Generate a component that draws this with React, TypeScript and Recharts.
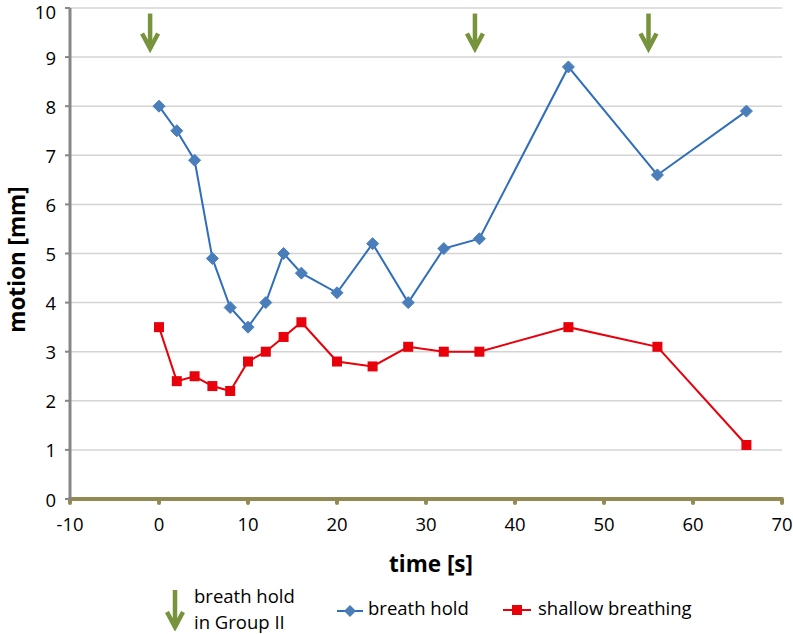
import React from 'react';
import { ComposedChart, Line, Scatter, XAxis, YAxis, CartesianGrid, Legend } from 'recharts';

const times = [0, 2, 4, 6, 8, 10, 12, 14, 16, 20, 24, 28, 32, 36, 46, 56, 66];
const breathHold = [8.0, 7.5, 6.9, 4.9, 3.9, 3.5, 4.0, 5.0, 4.6, 4.2, 5.2, 4.0, 5.1, 5.3, 8.8, 6.6, 7.9];
const shallowBreathing = [3.5, 2.4, 2.5, 2.3, 2.2, 2.8, 3.0, 3.3, 3.6, 2.8, 2.7, 3.1, 3.0, 3.0, 3.5, 3.1, 1.1];
const arrowTimes = [-1, 35.5, 55];
const arrowLevel = 9.5;
const xTicks = [-10, 0, 10, 20, 30, 40, 50, 60, 70];
const yTicks = [0, 1, 2, 3, 4, 5, 6, 7, 8, 9, 10];

const holdData = times.map((t, i) => ({ x: t, y: breathHold[i] }));
const shallowData = times.map((t, i) => ({ x: t, y: shallowBreathing[i] }));
const arrowData = arrowTimes.map((t) => ({ x: t, y: arrowLevel }));

const FONT = '"Open Sans", sans-serif';
const GREEN = '#77933C';
const BLUE_LINE = '#2F6EBA';
const BLUE_FILL = '#4A7EBB';
const RED = '#E8000B';
const TICK_SIZE = 18.5;
const LABEL_SIZE = 22.5;

const ArrowShape = (props: any) => {
  const { cx, cy } = props;
  if (cx == null || cy == null) return null;
  return (
    <g stroke={GREEN} strokeWidth={4.5} fill="none">
      <line x1={cx} y1={cy - 19} x2={cx} y2={cy + 16} />
      <polyline points={`${cx - 8},${cy + 1} ${cx},${cy + 16} ${cx + 8},${cy + 1}`} strokeLinejoin="miter" />
    </g>
  );
};

const Diamond = (props: any) => {
  const { cx, cy } = props;
  if (cx == null || cy == null) return <g />;
  const r = 6;
  return <path d={`M${cx},${cy - r}L${cx + r},${cy}L${cx},${cy + r}L${cx - r},${cy}Z`} fill={BLUE_FILL} stroke={BLUE_FILL} strokeWidth={1} />;
};

const Square = (props: any) => {
  const { cx, cy } = props;
  if (cx == null || cy == null) return <g />;
  const r = 5;
  return <rect x={cx - r} y={cy - r} width={2 * r} height={2 * r} fill={RED} />;
};

const YTick = (props: any) => {
  const { x, y, payload } = props;
  return (
    <text x={x} y={Math.max(y, 11)} textAnchor="end" dominantBaseline="central" fill="#000" fontSize={TICK_SIZE} fontFamily={FONT}>
      {payload.value}
    </text>
  );
};

const YLabel = (props: any) => {
  const vb = props.viewBox || {};
  const x = (vb.x ?? 0) + 16;
  const y = (vb.y ?? 0) + (vb.height ?? 0) / 2 + 6;
  return (
    <text x={x} y={y} transform={`rotate(-90, ${x}, ${y})`} textAnchor="middle" dominantBaseline="central" fontFamily={FONT} fontSize={LABEL_SIZE} fontWeight="bold" fill="#000">
      motion [mm]
    </text>
  );
};

const XLabel = (props: any) => {
  const vb = props.viewBox || {};
  const x = (vb.x ?? 0) + (vb.width ?? 0) / 2 + 5;
  const y = (vb.y ?? 0) + 64;
  return (
    <text x={x} y={y} textAnchor="middle" dominantBaseline="central" fontFamily={FONT} fontSize={LABEL_SIZE} fontWeight="bold" fill="#000">
      time [s]
    </text>
  );
};

const renderLegend = () => (
  <div style={{ position: 'relative', width: 793, height: 60, fontFamily: FONT, fontSize: TICK_SIZE, color: '#000' }}>
    <svg style={{ position: 'absolute', left: 165, top: 9 }} width={20} height={42}>
      <g stroke={GREEN} strokeWidth={4.5} fill="none">
        <line x1={10} y1={1} x2={10} y2={38} />
        <polyline points="2,23 10,38 18,23" />
      </g>
    </svg>
    <div style={{ position: 'absolute', left: 194, top: 3, lineHeight: '26px', whiteSpace: 'nowrap' }}>
      breath hold
      <br />
      in Group II
    </div>
    <svg style={{ position: 'absolute', left: 336, top: 23 }} width={28} height={16}>
      <line x1={1} y1={8} x2={27} y2={8} stroke={BLUE_LINE} strokeWidth={2} />
      <path d="M14,2L20,8L14,14L8,8Z" fill={BLUE_FILL} />
    </svg>
    <div style={{ position: 'absolute', left: 368, top: 15, lineHeight: '26px', whiteSpace: 'nowrap' }}>breath hold</div>
    <svg style={{ position: 'absolute', left: 502, top: 22 }} width={30} height={16}>
      <line x1={1} y1={8} x2={29} y2={8} stroke={RED} strokeWidth={2} />
      <rect x={10} y={3} width={10} height={10} fill={RED} />
    </svg>
    <div style={{ position: 'absolute', left: 538, top: 15, lineHeight: '26px', whiteSpace: 'nowrap' }}>shallow breathing</div>
  </div>
);

export default function App() {
  return (
    <div style={{ position: 'absolute', left: 0, top: 0, width: 793, height: 634, background: '#fff' }}>
      <ComposedChart width={793} height={634} margin={{ top: 8, right: 11, left: 0, bottom: 65 }}>
        <CartesianGrid vertical={false} stroke="#D4D4D4" strokeWidth={1.5} />
        <XAxis
          dataKey="x"
          type="number"
          domain={[-10, 70]}
          ticks={xTicks}
          height={70}
          axisLine={{ stroke: '#938953', strokeWidth: 4 }}
          tickLine={{ stroke: '#938953', strokeWidth: 4, strokeLinecap: 'round' }}
          tickSize={4}
          tickMargin={15}
          tick={{ fill: '#000', fontSize: TICK_SIZE, fontFamily: FONT }}
          label={<XLabel />}
        />
        <YAxis
          type="number"
          domain={[0, 10]}
          ticks={yTicks}
          width={70}
          axisLine={{ stroke: '#868686', strokeWidth: 3 }}
          tickLine={{ stroke: '#868686', strokeWidth: 2 }}
          tickSize={5}
          tickMargin={9}
          tick={<YTick />}
          label={<YLabel />}
        />
        <Legend layout="horizontal" verticalAlign="middle" align="center" content={renderLegend} wrapperStyle={{ top: 580, left: 0, width: 793, height: 60 }} />
        <Line data={holdData} dataKey="y" name="breath hold" stroke={BLUE_LINE} strokeWidth={2} dot={<Diamond />} isAnimationActive={false} />
        <Line data={shallowData} dataKey="y" name="shallow breathing" stroke={RED} strokeWidth={2} dot={<Square />} isAnimationActive={false} />
        <Scatter data={arrowData} dataKey="y" name="breath hold in Group II" shape={<ArrowShape />} isAnimationActive={false} />
      </ComposedChart>
    </div>
  );
}
